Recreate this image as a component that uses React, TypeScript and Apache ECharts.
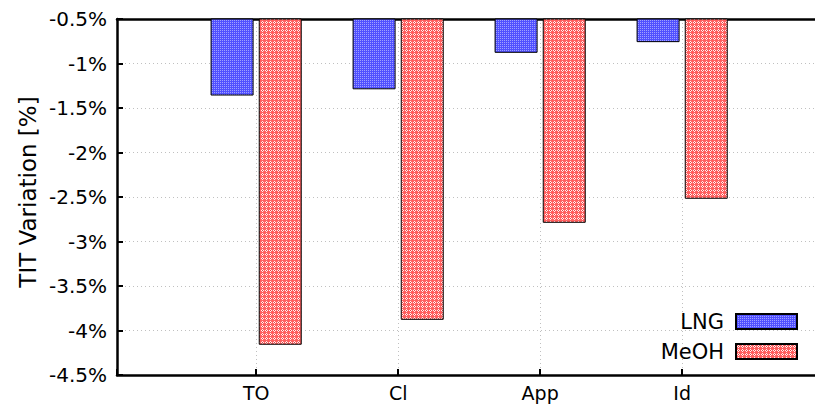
import React, { useEffect, useRef } from 'react';
import * as echarts from 'echarts';

const categories = ['TO', 'Cl', 'App', 'Id'];
const seriesNames = ['LNG', 'MeOH'];
const lngValues = [-1.36, -1.29, -0.88, -0.76];
const meohValues = [-4.16, -3.88, -2.79, -2.52];
const yAxisTitle = 'TIT Variation [%]';

const FONT = 'DejaVu Sans';

function makePattern(base: string, light: string, kind: 'dots' | 'cross', dark?: string) {
  const c = document.createElement('canvas');
  c.width = 4;
  c.height = 4;
  const ctx = c.getContext('2d')!;
  ctx.fillStyle = base;
  ctx.fillRect(0, 0, 4, 4);
  ctx.fillStyle = light;
  if (kind === 'dots') {
    [[0, 0], [2, 0], [0, 2], [2, 2]].forEach(([x, y]) => ctx.fillRect(x, y, 1, 1));
  } else {
    [[2, 1], [1, 2], [3, 2], [2, 3]].forEach(([x, y]) => ctx.fillRect(x, y, 1, 1));
    if (dark) {
      ctx.fillStyle = dark;
      ctx.fillRect(2, 2, 1, 1);
    }
  }
  return { image: c, repeat: 'repeat', imageWidth: 4, imageHeight: 4 } as any;
}

export default function App() {
  const ref = useRef<HTMLDivElement>(null);
  useEffect(() => {
    if (!ref.current) return;
    const chart = echarts.init(ref.current, undefined, { renderer: 'svg' });
    const bluePat = makePattern('#5050ff', '#a0a0ff', 'dots');
    const redPat = makePattern('#ff6060', '#fff0f0', 'cross', '#e83c3c');
    const textStyle = { fontFamily: FONT, fontSize: 20, color: '#000' };
    const xMin = -0.98;
    const xMax = 4.02;
    chart.setOption({
      animation: false,
      backgroundColor: '#fff',
      grid: { left: 117, top: 19, bottom: 30, right: 0, containLabel: false },
      xAxis: [
        {
          type: 'value',
          min: xMin,
          max: xMax,
          position: 'bottom',
          axisLine: { show: true, onZero: false, lineStyle: { color: '#000', width: 2.5 } },
          axisTick: { show: true, inside: true, length: 6, lineStyle: { color: '#000', width: 2 } },
          axisLabel: {
            ...textStyle,
            fontSize: 19,
            margin: 8,
            showMinLabel: true,
            showMaxLabel: true,
            formatter: (v: number) => (Number.isInteger(v) && categories[v] !== undefined ? categories[v] : ''),
          },
          splitLine: { show: true, lineStyle: { color: '#c0c0c0', width: 1, type: [1, 3] } },
        },
        {
          type: 'value',
          min: xMin,
          max: xMax,
          position: 'top',
          axisLine: { show: true, onZero: false, lineStyle: { color: '#000', width: 2.5 } },
          axisTick: { show: false },
          axisLabel: { show: false },
          splitLine: { show: false },
        },
      ],
      yAxis: {
        type: 'value',
        min: -4.5,
        max: -0.5,
        interval: 0.5,
        axisLine: { show: true, onZero: false, lineStyle: { color: '#000', width: 2.5 } },
        axisTick: { show: true, inside: true, length: 6, lineStyle: { color: '#000', width: 2 } },
        axisLabel: {
          ...textStyle,
          margin: 10,
          formatter: (v: number) => `${Math.round(v * 10) / 10}%`,
        },
        splitLine: { show: true, lineStyle: { color: '#c0c0c0', width: 1, type: [1, 3] } },
      },
      legend: {
        orient: 'vertical',
        right: 27,
        top: 306,
        align: 'right',
        icon: 'rect',
        itemWidth: 61,
        itemHeight: 15,
        itemGap: 9,
        textStyle: { ...textStyle, fontSize: 21, padding: [0, 7, 0, 0] },
        data: seriesNames,
      },
      graphic: [
        {
          type: 'text',
          x: 28,
          y: 192,
          rotation: Math.PI / 2,
          style: {
            text: yAxisTitle,
            fontFamily: FONT,
            fontSize: 23,
            fill: '#000',
            align: 'center',
            verticalAlign: 'middle',
          },
        },
      ],
      series: [
        {
          name: seriesNames[0],
          type: 'bar',
          clip: true,
          barWidth: 43,
          barGap: '12%',
          data: lngValues.map((v, i) => [i, v]),
          itemStyle: { color: bluePat, borderColor: '#000', borderWidth: 1 },
        },
        {
          name: seriesNames[1],
          type: 'bar',
          clip: true,
          barWidth: 43,
          barGap: '12%',
          data: meohValues.map((v, i) => [i, v]),
          itemStyle: { color: redPat, borderColor: '#000', borderWidth: 1 },
        },
      ],
    });
    return () => chart.dispose();
  }, []);
  return (
    <div style={{ position: 'fixed', left: 0, top: 0, width: 815, height: 405, overflow: 'hidden', background: '#fff' }}>
      <div ref={ref} style={{ width: 830, height: 405 }} />
    </div>
  );
}
